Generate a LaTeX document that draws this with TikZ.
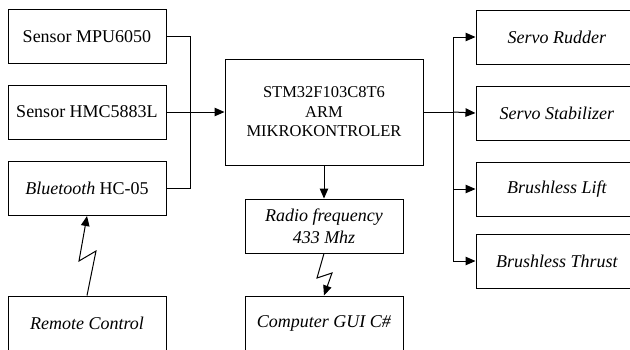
\documentclass[tikz,border=0pt]{standalone}
\usepackage{fontspec}
\setmainfont{Liberation Serif}
\usetikzlibrary{arrows.meta}
\begin{document}
\begin{tikzpicture}[x=1pt,y=-1pt,
  box/.style={draw,line width=1pt,minimum height=54pt,inner sep=0pt,align=center,font=\fontsize{18}{21.5}\selectfont},
  lbox/.style={box,minimum width=158pt},
  rbox/.style={box,minimum width=162pt},
  conn/.style={line width=1pt},
  arr/.style={conn,-{Triangle[length=10pt,width=8.5pt]}}]
\useasboundingbox (0,0) rectangle (630,349);
\clip (0,0) rectangle (630,349);
% left column
\node[lbox] (s1) at (87,36.5) {Sensor MPU6050};
\node[lbox] (s2) at (87,112) {Sensor HMC5883L};
\node[lbox] (bt) at (87,188.5) {\textit{Bluetooth} HC-05};
\node[lbox,minimum height=55pt] (rc) at (87,323.5) {\textit{Remote Control}};
% center
\node[box,minimum width=198pt,minimum height=106pt,font=\fontsize{16.5}{19.5}\selectfont] (mcu) at (324,112) {STM32F103C8T6\\ARM\\MIKROKONTROLER};
\node[lbox] (rf) at (324,226) {\textit{Radio frequency}\\\textit{433 Mhz}};
\node[lbox,minimum height=55pt] (pc) at (324,323.5) {\textit{Computer GUI C\#}};
% right column
\node[rbox] (r1) at (557,37) {\textit{Servo Rudder}};
\node[rbox] (r2) at (557,113) {\textit{Servo Stabilizer}};
\node[rbox] (r3) at (557,189) {\textit{Brushless Lift}};
\node[rbox] (r4) at (557,261) {\textit{Brushless Thrust}};
% left bus
\coordinate (busL) at (190,112);
\draw[conn] (s1.east) -| (busL);
\draw[conn] (bt.east) -| (busL);
\draw[arr] (s2.east) -- (mcu.west);
% right bus
\coordinate (busR) at (453,112);
\draw[conn] (mcu.east) -- (busR);
\draw[arr] (busR) |- (r1.west);
\draw[arr] (busR) -- (r2.west);
\draw[arr] (busR) |- (r3.west);
\draw[arr] (busR) |- (r4.west);
% down to radio
\draw[arr] (mcu.south) -- (rf.north);
% wireless links
\draw[arr] (rc.north) -- (96,251) -- (79,261) -- (bt.south);
\draw[arr] (rf.south) -- (317,278) -- (332,273) -- (pc.north);
\end{tikzpicture}
\end{document}
